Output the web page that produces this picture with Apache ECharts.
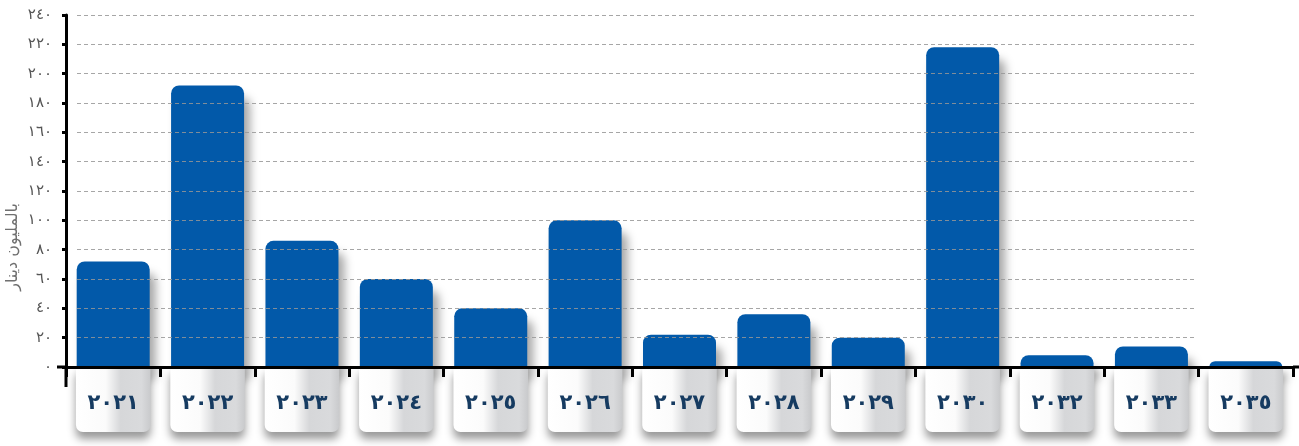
<!DOCTYPE html>
<html>
<head>
<meta charset="utf-8">
<script src="https://cdn.jsdelivr.net/npm/echarts@6/dist/echarts.min.js"></script>
<style>
  html, body { margin: 0; padding: 0; background: #ffffff; }
  #chart { width: 1299px; height: 446px; }
</style>
</head>
<body>
<div id="chart"></div>
<script>
// Years (Arabic-Indic digits)
const categories = ['٢٠٢١', '٢٠٢٢', '٢٠٢٣', '٢٠٢٤', '٢٠٢٥', '٢٠٢٦', '٢٠٢٧', '٢٠٢٨', '٢٠٢٩', '٢٠٣٠', '٢٠٣٢', '٢٠٣٣', '٢٠٣٥'];
// Amounts in millions of dinars
const values = [72, 192, 86, 60, 40, 100, 22, 36, 20, 218, 8, 14, 4];
// Y-axis tick labels, 0 to 240 by 20
const yTickLabels = ['٠', '٢٠', '٤٠', '٦٠', '٨٠', '١٠٠', '١٢٠', '١٤٠', '١٦٠', '١٨٠', '٢٠٠', '٢٢٠', '٢٤٠'];
const yUnit = 'بالمليون دينار';

const Y_MIN = 0, Y_MAX = 240, Y_STEP = 20;
const LEFT = 66, RIGHT = 6, TOP = 15, BOTTOM = 79;
const W = 1299, H = 446;
const axisY = H - BOTTOM;

const chart = echarts.init(document.getElementById('chart'), null, { renderer: 'canvas' });

const boxGradient = {
  type: 'linear', x: 0, y: 0, x2: 1, y2: 0,
  colorStops: [
    { offset: 0, color: '#ffffff' },
    { offset: 0.4, color: '#fbfbfb' },
    { offset: 0.6, color: '#d6d7d9' },
    { offset: 0.88, color: '#d9dadc' },
    { offset: 1, color: '#c9cacc' }
  ]
};

chart.setOption({
  animation: false,
  backgroundColor: '#ffffff',
  textStyle: { fontFamily: 'DejaVu Sans' },
  grid: [
    { left: LEFT, right: RIGHT, top: TOP, bottom: BOTTOM },
    { left: 77, right: 104, top: TOP, bottom: BOTTOM }
  ],
  xAxis: [
    {
      type: 'category',
      gridIndex: 0,
      data: categories,
      z: 10,
      axisLine: { show: true, lineStyle: { color: '#000000', width: 3 } },
      axisTick: { show: true, length: 10, lineStyle: { color: '#000000', width: 3 } },
      axisLabel: {
        margin: 26,
        fontSize: 21,
        fontWeight: 'bold',
        color: '#163b61',
        fontFamily: 'DejaVu Sans'
      },
      splitLine: { show: false }
    },
    { type: 'value', gridIndex: 1, show: false, min: 0, max: 1 }
  ],
  yAxis: [
    {
      type: 'value',
      gridIndex: 0,
      min: Y_MIN, max: Y_MAX, interval: Y_STEP,
      z: 10,
      axisLine: { show: true, lineStyle: { color: '#000000', width: 3 } },
      axisTick: { show: true, length: 4, lineStyle: { color: '#000000', width: 3 } },
      axisLabel: {
        margin: 14,
        fontSize: 15,
        color: '#555555',
        fontFamily: 'DejaVu Sans',
        formatter: function (v) { return yTickLabels[Math.round(v / Y_STEP)]; }
      },
      splitLine: { show: false }
    },
    {
      type: 'value',
      gridIndex: 1,
      min: Y_MIN, max: Y_MAX, interval: Y_STEP,
      z: 5,
      axisLine: { show: false },
      axisTick: { show: false },
      axisLabel: { show: false },
      splitLine: { show: true, lineStyle: { color: 'rgba(150,150,150,0.85)', width: 1, type: [4, 3] } }
    }
  ],
  series: [
    {
      type: 'bar',
      xAxisIndex: 0, yAxisIndex: 0,
      data: values,
      barWidth: 73,
      z: 2,
      itemStyle: {
        color: '#0259a9',
        borderRadius: [8, 8, 0, 0],
        shadowColor: 'rgba(0,0,0,0.35)',
        shadowBlur: 10,
        shadowOffsetX: 6,
        shadowOffsetY: 12
      }
    },
    {
      type: 'custom',
      xAxisIndex: 0, yAxisIndex: 0,
      z: 4,
      clip: false,
      silent: true,
      data: categories.map(function (c, i) { return [i]; }),
      renderItem: function (params, api) {
        const c = api.coord([api.value(0), 0]);
        const w = api.size([1, 0])[0] * 0.79;
        return {
          type: 'rect',
          shape: { x: c[0] - w / 2, y: c[1] + 1, width: w, height: 64, r: [0, 0, 7, 7] },
          style: {
            fill: boxGradient,
            shadowColor: 'rgba(0,0,0,0.4)',
            shadowBlur: 8,
            shadowOffsetY: 7
          }
        };
      }
    }
  ],
  graphic: [
    // axis line extensions beyond the plot area
    { type: 'line', z: 100, shape: { x1: LEFT, y1: axisY, x2: LEFT, y2: axisY + 20 }, style: { stroke: '#000', lineWidth: 3 } },
    { type: 'line', z: 100, shape: { x1: LEFT - 9, y1: axisY, x2: LEFT, y2: axisY }, style: { stroke: '#000', lineWidth: 3 } },
    { type: 'line', z: 100, shape: { x1: W - RIGHT, y1: axisY, x2: W, y2: axisY }, style: { stroke: '#000', lineWidth: 3 } },
    {
      type: 'text',
      z: 100,
      x: 13, y: 247,
      rotation: Math.PI / 2,
      style: {
        text: yUnit,
        fontSize: 16,
        fontFamily: 'DejaVu Sans',
        fill: '#707070',
        align: 'center',
        verticalAlign: 'middle'
      }
    }
  ]
});
</script>
</body>
</html>
